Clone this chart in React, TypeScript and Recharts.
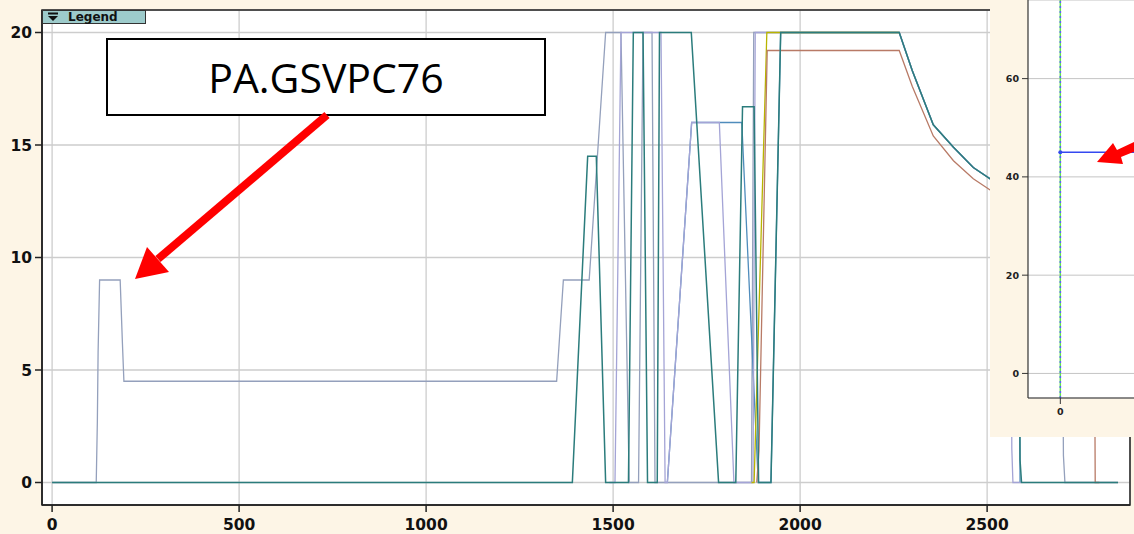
import React from "react";
import { LineChart, Line, XAxis, YAxis, CartesianGrid, ReferenceArea, ReferenceLine } from "recharts";

const CREAM = "#fdf5e6";

// main plot ticks
const X_TICKS = [0, 500, 1000, 1500, 2000, 2500];
const Y_TICKS = [0, 5, 10, 15, 20];

// series, [x, value]
const slatePts: [number, number][] = [
  [0, 0], [118, 0], [121, 2.7], [123, 5.8], [127, 9], [182, 9], [188, 6.2], [192, 4.5],
  [1349, 4.5], [1367, 9], [1436, 9], [1480, 20], [1521, 20], [1543, 0], [1568, 0], [1580, 20],
  [1604, 20], [1612, 0], [1870, 0], [1876, 20], [2265, 20], [2300, 18.3], [2356, 15.9],
  [2410, 14.9], [2463, 14.0], [2508, 13.5], [2600, 12.6], [2700, 11.9], [2704, 1.2], [2708, 0], [2850, 0],
];
const lavenderPts: [number, number][] = [
  [1490, 0], [1505, 0], [1521, 20], [1628, 20], [1639, 0], [1645, 0], [1710, 16], [1784, 16],
  [1823, 0], [1874, 0], [1880, 20], [2265, 20], [2300, 18.3], [2356, 15.9], [2410, 14.9],
  [2463, 14.0], [2508, 13.5], [2563, 13.0], [2566, 1.5], [2569, 0], [2590, 0],
];
const bluePts: [number, number][] = [
  [1645, 0], [1710, 16], [1844, 16], [1888, 0], [1922, 0], [1948, 20], [2265, 20], [2300, 18.3],
  [2356, 15.9], [2410, 14.9], [2463, 14.0], [2508, 13.5], [2585, 12.8], [2588, 0],
];
const yellowPts: [number, number][] = [[1870, 0], [1877, 0], [1911, 20], [2265, 20]];
const brownPts: [number, number][] = [
  [1884, 0], [1890, 1.4], [1912, 19.2], [2265, 19.2], [2300, 17.6], [2356, 15.4], [2410, 14.3],
  [2463, 13.5], [2508, 13.0], [2600, 12.3], [2700, 11.6], [2786, 11.0], [2789, 0], [2800, 0],
];
const tealPts: [number, number][] = [
  [0, 0], [1391, 0], [1432, 14.5], [1455, 14.5], [1480, 0], [1541, 0], [1554, 20], [1580, 20],
  [1592, 0], [1618, 0], [1624, 20], [1709, 20], [1782, 0], [1828, 0], [1846, 16.7], [1877, 16.7],
  [1889, 0], [1922, 0], [1948, 20], [2265, 20], [2300, 18.3], [2356, 15.9], [2410, 14.9],
  [2463, 14.0], [2508, 13.5], [2550, 13.1], [2585, 12.8], [2588, 1.0], [2592, 0], [2850, 0],
];

// inset (pasted second plot)
const INSET_X_TICKS = [0];
const INSET_Y_TICKS = [0, 20, 40, 60];
const insetBluePts: [number, number][] = [[0, 45], [2.28, 45]];

const rows = (pts: [number, number][]) => pts.map(([x, y]) => ({ x, y }));

const tickFont = { fill: "#111", fontSize: 15.5, fontWeight: 700, fontFamily: "DejaVu Sans" };
const insetFont = { fill: "#222", fontSize: 9.5, fontWeight: 600, fontFamily: "DejaVu Sans" };

// draw order: blue under lavender, teal on top
const series = [
  { key: "slate", pts: slatePts, color: "#94a0bc", w: 1.3 },
  { key: "blue", pts: bluePts, color: "#4f8cbc", w: 1.3 },
  { key: "lavender", pts: lavenderPts, color: "#a4a4d6", w: 1.3 },
  { key: "yellow", pts: yellowPts, color: "#b8b400", w: 1.3 },
  { key: "brown", pts: brownPts, color: "#b87a66", w: 1.3 },
  { key: "teal", pts: tealPts, color: "#2b7c7c", w: 1.5 },
];

const InsetDot = (p: any) =>
  p.index === 0 ? <circle key="d0" cx={p.cx} cy={p.cy} r={2} fill="#3448f0" /> : <g key={"d" + p.index} />;

export default function App() {
  return (
    <div style={{ position: "fixed", left: 0, top: 0, width: 1134, height: 534, background: CREAM, overflow: "hidden" }}>
      <LineChart width={1134} height={534} margin={{ top: 10, right: 4, bottom: 0, left: 0 }}>
        <CartesianGrid stroke="#cdcdcd" strokeWidth={1.3} fill="#ffffff" fillOpacity={1} />
        <XAxis
          type="number"
          dataKey="x"
          domain={[-27, 2882]}
          ticks={X_TICKS}
          interval={0}
          allowDataOverflow
          height={29}
          tickSize={7}
          tickMargin={7}
          tick={tickFont}
          axisLine={{ stroke: "#222", strokeWidth: 1.5 }}
          tickLine={{ stroke: "#222", strokeWidth: 1.5 }}
        />
        <YAxis
          type="number"
          domain={[-1, 21]}
          ticks={Y_TICKS}
          interval={0}
          allowDataOverflow
          width={42}
          tickSize={7}
          tickMargin={3}
          tick={tickFont}
          axisLine={{ stroke: "#222", strokeWidth: 1.5 }}
          tickLine={{ stroke: "#222", strokeWidth: 1.5 }}
        />
        <ReferenceArea x1={-27} x2={2882} y1={-1} y2={21} fill="none" stroke="#222" strokeWidth={1.5} ifOverflow="visible" />
        {series.map((s) => (
          <Line
            key={s.key}
            data={rows(s.pts)}
            dataKey="y"
            type="linear"
            stroke={s.color}
            strokeWidth={s.w}
            dot={false}
            activeDot={false}
            isAnimationActive={false}
          />
        ))}
      </LineChart>

      {/* legend tab */}
      <div
        style={{
          position: "absolute", left: 42, top: 10, width: 104, height: 14, boxSizing: "border-box",
          background: "#9dcbcb", border: "1px solid #333", fontFamily: "DejaVu Sans", fontWeight: 700,
          fontSize: 12, lineHeight: "12px", color: "#111",
        }}
      >
        <svg width={14} height={12} style={{ position: "absolute", left: 3, top: 0 }}>
          <rect x={2} y={1.5} width={10} height={2} fill="#111" />
          <polygon points="2,5 12,5 7,10" fill="#111" />
        </svg>
        <span style={{ position: "absolute", left: 25, top: 0 }}>Legend</span>
      </div>

      {/* annotation box */}
      <div
        style={{
          position: "absolute", left: 106, top: 38, width: 440, height: 78, boxSizing: "border-box",
          border: "2px solid #000", background: "#fff", display: "flex", alignItems: "center",
          justifyContent: "center", fontFamily: "Open Sans", fontSize: 41, color: "#000",
        }}
      >
        PA.GSVPC76
      </div>

      {/* inset plot pasted on the right */}
      <div style={{ position: "absolute", left: 990, top: 0, width: 144, height: 437, background: CREAM }}>
        <LineChart width={144} height={437} margin={{ top: 0, right: 0, bottom: 0, left: 0 }}>
          <CartesianGrid vertical={false} stroke="#c4c4c4" fill="#ffffff" fillOpacity={1} />
          <XAxis
            type="number"
            dataKey="x"
            domain={[-1, 2.28]}
            ticks={INSET_X_TICKS}
            allowDataOverflow
            height={39}
            tickSize={6}
            tickMargin={4}
            tick={insetFont}
            axisLine={{ stroke: "#333", strokeWidth: 1.2 }}
            tickLine={{ stroke: "#333" }}
          />
          <YAxis
            type="number"
            domain={[-5, 76]}
            ticks={INSET_Y_TICKS}
            interval={0}
            allowDataOverflow
            width={38}
            tickSize={6}
            tickMargin={3}
            tick={insetFont}
            axisLine={{ stroke: "#333", strokeWidth: 1.2 }}
            tickLine={{ stroke: "#333" }}
          />
          <ReferenceLine x={0} stroke="#5ee34a" strokeWidth={1.5} />
          <ReferenceLine x={0} stroke="#5a5cff" strokeWidth={1.5} strokeDasharray="2 3" />
          <Line
            data={rows(insetBluePts)}
            dataKey="y"
            type="linear"
            stroke="#3448f0"
            strokeWidth={1.5}
            dot={InsetDot}
            activeDot={false}
            isAnimationActive={false}
          />
        </LineChart>
      </div>

      {/* red arrows */}
      <svg width={1134} height={534} style={{ position: "absolute", left: 0, top: 0, pointerEvents: "none" }}>
        <line x1={327} y1={115} x2={158} y2={259} stroke="#ff0000" strokeWidth={8} />
        <polygon points="135,279 169,272 147,247" fill="#ff0000" />
        <polygon points="1097,162 1113,143 1117,150 1136,141 1136,151 1121,157 1123,164" fill="#ff0000" />
      </svg>
    </div>
  );
}
